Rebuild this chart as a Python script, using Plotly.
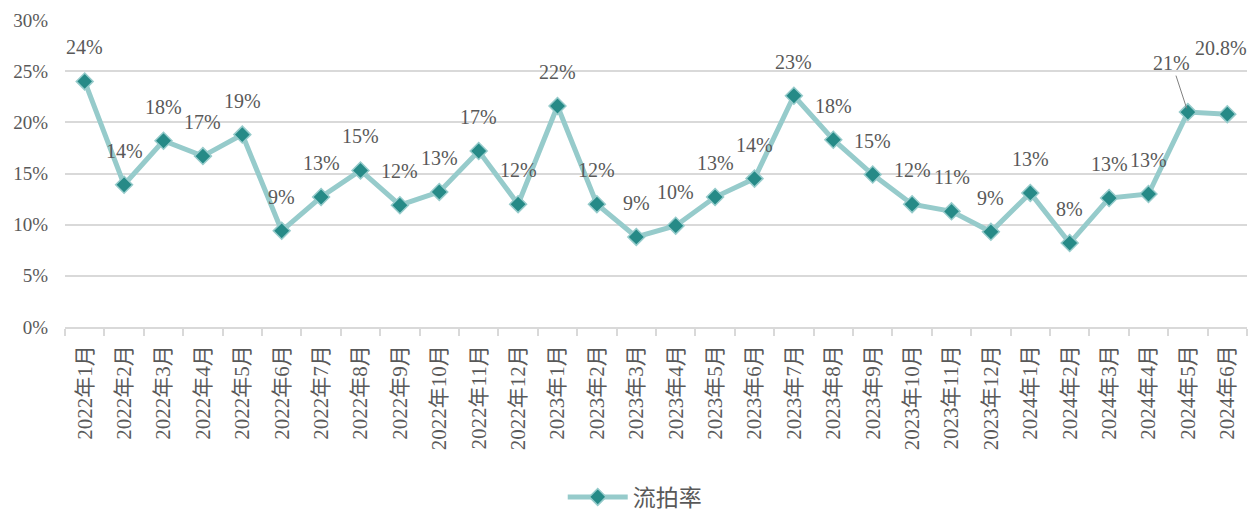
import plotly.graph_objects as go

months = [f"2022年{m}月" for m in range(1, 13)] + [f"2023年{m}月" for m in range(1, 13)] + [f"2024年{m}月" for m in range(1, 7)]
rates = [24.0, 13.9, 18.2, 16.7, 18.8, 9.4, 12.7, 15.3, 11.9, 13.2, 17.2, 12.0,
         21.6, 12.0, 8.8, 9.9, 12.7, 14.5, 22.6, 18.3, 14.9, 12.0, 11.3, 9.3,
         13.1, 8.2, 12.6, 13.0, 21.0, 20.8]
labels = ["24%", "14%", "18%", "17%", "19%", "9%", "13%", "15%", "12%", "13%", "17%", "12%",
          "22%", "12%", "9%", "10%", "13%", "14%", "23%", "18%", "15%", "12%", "11%", "9%",
          "13%", "8%", "13%", "13%", "21%", "20.8%"]

FONT = "Liberation Serif, Noto Sans CJK SC, serif"
TXT = "#595959"

fig = go.Figure()
fig.add_trace(go.Scatter(
    x=months, y=rates, mode="lines+markers", name="流拍率",
    line=dict(color="#96CBCB", width=5),
    marker=dict(symbol="diamond", size=13, color="#268A87", line=dict(color="#96CBCB", width=1.5)),
))

n_std = len(rates) - 2
for m, v, t in zip(months[:n_std], rates[:n_std], labels[:n_std]):
    fig.add_annotation(x=m, y=v, text=t, showarrow=False, yshift=34, yanchor="middle",
                       font=dict(family=FONT, size=20, color=TXT))
# manually placed labels for the last two points
fig.add_annotation(x=months[-2], y=rates[-2], text=labels[-2], showarrow=True, arrowhead=0,
                   arrowcolor="#808080", arrowwidth=1, ax=-16, ay=-49, standoff=4,
                   font=dict(family=FONT, size=20, color=TXT))
fig.add_annotation(x=months[-1], y=rates[-1], text=labels[-1], showarrow=False,
                   yshift=66, xshift=-6, yanchor="middle", font=dict(family=FONT, size=20, color=TXT))

fig.update_layout(
    width=1250, height=502,
    margin=dict(l=57, r=11, t=12, b=183, autoexpand=False),
    paper_bgcolor="white", plot_bgcolor="white",
    font=dict(family=FONT, color=TXT, size=18),
    showlegend=True,
    legend=dict(orientation="h", x=0.482, xanchor="center", y=0.026, yref="container",
                yanchor="middle", itemwidth=60, font=dict(family=FONT, size=23, color=TXT)),
    xaxis=dict(type="category", range=[-0.5, len(months) - 0.5], tickangle=-90,
               tickson="boundaries", ticks="outside", ticklabelstandoff=8,
               ticklen=7, tickcolor="#D9D9D9", tickwidth=1.5, showline=True, linecolor="#D9D9D9",
               linewidth=1.5, showgrid=False, tickfont=dict(family=FONT, size=21, color=TXT)),
    yaxis=dict(range=[0, 30], dtick=5, ticksuffix="%", showgrid=True, gridcolor="#D9D9D9",
               gridwidth=1.5, zeroline=False, showline=False, ticklabelstandoff=16,
               tickfont=dict(family=FONT, size=19, color=TXT)),
)
fig.write_html("out.html")
